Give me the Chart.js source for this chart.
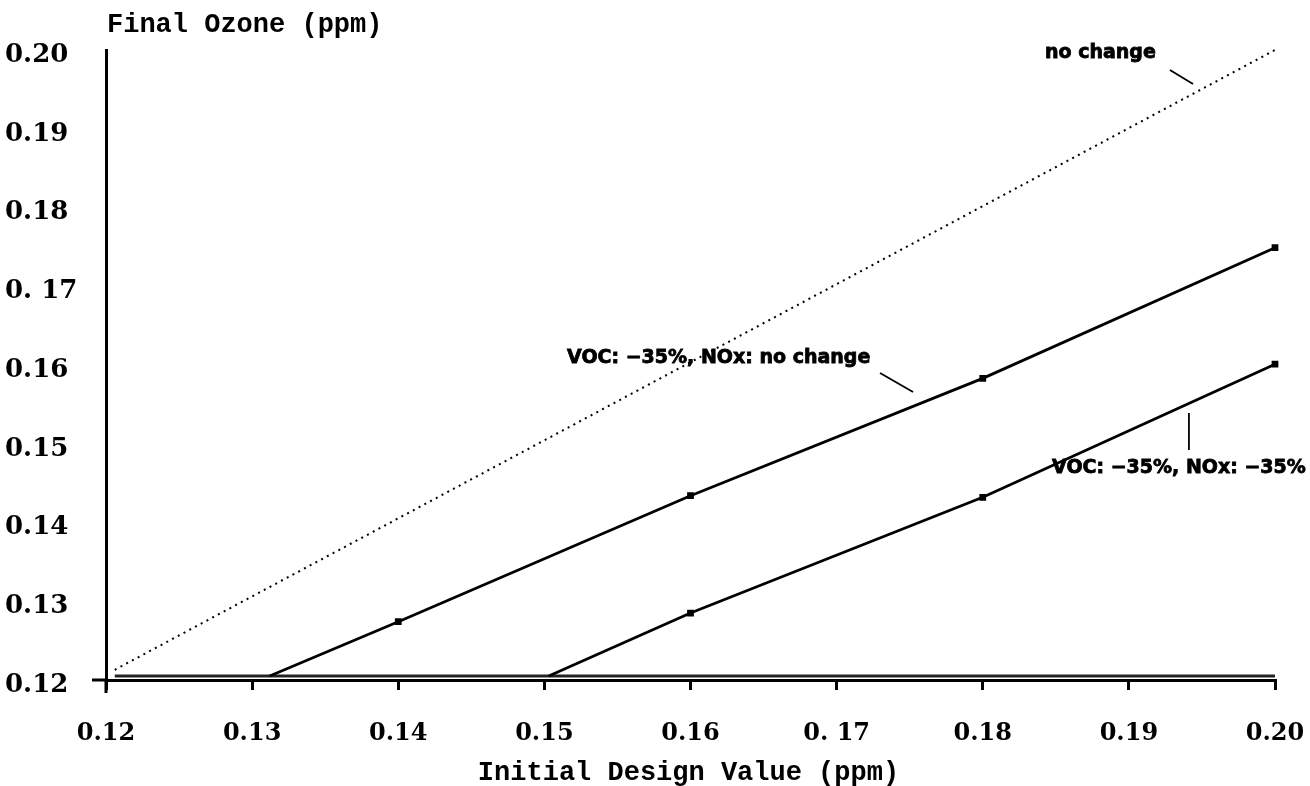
<!DOCTYPE html>
<html>
<head>
<meta charset="utf-8">
<script src="https://cdn.jsdelivr.net/npm/chart.js@4/dist/chart.umd.min.js"></script>
<style>
html,body{margin:0;padding:0;background:#fff;}
#c{display:block;}
</style>
</head>
<body>
<canvas id="c" width="1310" height="786"></canvas>
<script>
// ---- data ----
const xTickValues = [0.12, 0.13, 0.14, 0.15, 0.16, 0.17, 0.18, 0.19, 0.20];
const xTickLabels = ['0.12', '0.13', '0.14', '0.15', '0.16', '0. 17', '0.18', '0.19', '0.20'];
const yTickValues = [0.12, 0.13, 0.14, 0.15, 0.16, 0.17, 0.18, 0.19, 0.20];
const yTickLabels = ['0.12', '0.13', '0.14', '0.15', '0.16', '0. 17', '0.18', '0.19', '0.20'];

const noChangeX = [0.1206, 0.20];
const noChangeY = [0.1213, 0.20];

const vocOnlyX = [0.1312, 0.14, 0.16, 0.18, 0.20];
const vocOnlyY = [0.1205, 0.1274, 0.1434, 0.1583, 0.1749];

const vocNoxX = [0.1503, 0.16, 0.18, 0.20];
const vocNoxY = [0.1205, 0.1285, 0.1432, 0.1601];

const floorX = [0.1206, 0.20];
const floorY = [0.1205, 0.1205];

const labelTexts = ['no change', 'VOC: \u221235%, NOx: no change', 'VOC: \u221235%, NOx: \u221235%'];
// label anchors (data coords): text left x, text middle y, leader line x1,y1,x2,y2
const labelX = [0.18426, 0.15155, 0.18474];
const labelY = [0.19962, 0.16089, 0.14692];
const leaderX1 = [0.19281, 0.17297, 0.19411];
const leaderY1 = [0.19746, 0.15898, 0.1539];
const leaderX2 = [0.19439, 0.17523, 0.19411];
const leaderY2 = [0.19568, 0.15657, 0.14921];

const yTitle = 'Final Ozone (ppm)';
const xTitle = 'Initial Design Value (ppm)';

const pts = (xs, ys) => xs.map((x, i) => ({x: x, y: ys[i]}));
const radii = (xs, first) => xs.map((x, i) => (i === 0 && first ? 0 : 2.8));

const decor = {
  id: 'decor',
  afterDraw(chart) {
    const ctx = chart.ctx;
    const xs = chart.scales.x, ys = chart.scales.y;
    const ca = chart.chartArea;
    ctx.save();
    // axis extensions
    ctx.strokeStyle = '#000';
    ctx.lineWidth = 3;
    ctx.beginPath();
    ctx.moveTo(ca.left - 14, ys.getPixelForValue(0.12));
    ctx.lineTo(ca.left, ys.getPixelForValue(0.12));
    ctx.moveTo(ca.left, ys.getPixelForValue(0.12));
    ctx.lineTo(ca.left, ys.getPixelForValue(0.12) + 13);
    ctx.stroke();
    // titles
    ctx.fillStyle = '#000';
    ctx.font = 'bold 27px "Liberation Mono", "DejaVu Sans Mono", monospace';
    ctx.textBaseline = 'middle';
    ctx.textAlign = 'left';
    ctx.fillText(yTitle, ca.left + 1, 25);
    ctx.textAlign = 'center';
    ctx.fillText(xTitle, (ca.left + ca.right) / 2 - 2, 773);
    // annotations
    ctx.font = 'bold 19px "DejaVu Sans", sans-serif';
    ctx.textAlign = 'left';
    for (let i = 0; i < labelTexts.length; i++) {
      const tx = xs.getPixelForValue(labelX[i]), ty = ys.getPixelForValue(labelY[i]);
      ctx.lineWidth = 0.8;
      ctx.fillText(labelTexts[i], tx, ty);
      ctx.strokeText(labelTexts[i], tx, ty);
      ctx.lineWidth = 1.8;
      ctx.beginPath();
      ctx.moveTo(xs.getPixelForValue(leaderX1[i]), ys.getPixelForValue(leaderY1[i]));
      ctx.lineTo(xs.getPixelForValue(leaderX2[i]), ys.getPixelForValue(leaderY2[i]));
      ctx.stroke();
    }
    ctx.restore();
  }
};

new Chart(document.getElementById('c'), {
  type: 'line',
  data: {
    datasets: [
      {
        label: 'no change',
        data: pts(noChangeX, noChangeY),
        borderColor: '#000',
        borderWidth: 2,
        borderDash: [2, 4.5],
        pointRadius: 0,
        clip: false
      },
      {
        label: 'VOC: -35%, NOx: no change',
        data: pts(vocOnlyX, vocOnlyY),
        borderColor: '#000',
        backgroundColor: '#000',
        borderWidth: 2.8,
        pointStyle: 'rect',
        pointRadius: radii(vocOnlyX, true),
        clip: false
      },
      {
        label: 'VOC: -35%, NOx: -35%',
        data: pts(vocNoxX, vocNoxY),
        borderColor: '#000',
        backgroundColor: '#000',
        borderWidth: 2.8,
        pointStyle: 'rect',
        pointRadius: radii(vocNoxX, true),
        clip: false
      },
      {
        label: 'floor',
        data: pts(floorX, floorY),
        borderColor: '#222',
        borderWidth: 3,
        pointRadius: 0,
        clip: false
      }
    ]
  },
  options: {
    responsive: false,
    devicePixelRatio: 1,
    animation: false,
    layout: {padding: {top: 50, right: 35, bottom: 0, left: 5}},
    plugins: {legend: {display: false}, tooltip: {enabled: false}, title: {display: false}},
    scales: {
      x: {
        type: 'linear',
        min: 0.12,
        max: 0.20,
        afterBuildTicks(s) { s.ticks = xTickValues.map(v => ({value: v})); },
        afterFit(s) { s.height = 106; s.paddingLeft = 0; s.paddingRight = 0; },
        grid: {display: true, drawOnChartArea: false, drawTicks: true, tickLength: 10, color: '#000', lineWidth: 3},
        border: {display: true, color: '#000', width: 3},
        ticks: {
          color: '#000',
          padding: 29,
          maxRotation: 0,
          autoSkip: false,
          font: {family: '"DejaVu Serif", serif', size: 24, weight: 'bold'},
          callback: (v, i) => xTickLabels[i]
        }
      },
      y: {
        type: 'linear',
        min: 0.12,
        max: 0.20,
        afterBuildTicks(s) { s.ticks = yTickValues.map(v => ({value: v})); },
        afterFit(s) { s.width = 101; s.paddingTop = 0; s.paddingBottom = 0; },
        grid: {display: true, drawOnChartArea: false, drawTicks: false},
        border: {display: true, color: '#000', width: 3},
        ticks: {
          color: '#000',
          crossAlign: 'far',
          labelOffset: 5,
          autoSkip: false,
          font: {family: '"DejaVu Serif", serif', size: 26, weight: 'bold'},
          callback: (v, i) => yTickLabels[i]
        }
      }
    }
  },
  plugins: [decor]
});
</script>
</body>
</html>
